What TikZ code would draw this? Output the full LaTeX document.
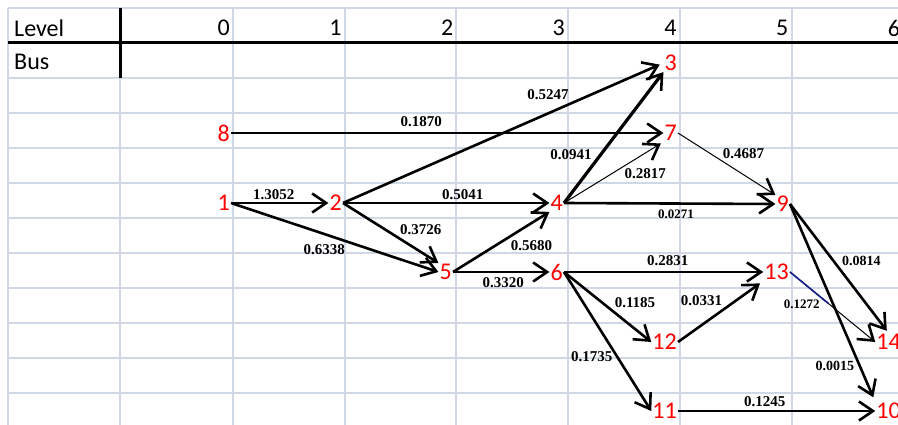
\documentclass[tikz,border=0pt]{standalone}
\usepackage{fontspec}
\setmainfont{Liberation Serif}
\newfontfamily\calibri{Carlito}
\usepackage{tikz}
\usetikzlibrary{arrows.meta,calc}
\definecolor{gridc}{RGB}{208,215,229}
\definecolor{navyline}{RGB}{20,30,140}
\tikzstyle{sheetline}=[
	draw=gridc,
	line width=2.2]
\tikzstyle{bus}=[
	text=red,
	font=\calibri\fontsize{24}{24}\selectfont,
	inner sep=1,
	anchor=east]
\tikzstyle{hdr}=[
	font=\calibri\fontsize{24}{24}\selectfont,
	inner sep=0]
\tikzstyle{lbl}=[
	font=\bfseries\fontsize{15}{15}\selectfont,
	inner sep=1.5]
\tikzstyle{lbls}=[
	lbl,
	font=\bfseries\fontsize{13}{13}\selectfont]
\tikzstyle{heavy}=[
	draw=black,
	line width=2.6,
	-{Straight Barb[length=14pt,width=19pt,line width=2.6pt]}]
\tikzstyle{fine}=[
	heavy,
	line width=1]

\begin{document}
\begin{tikzpicture}[x=1pt,y=-1pt]
	\useasboundingbox (0,0) rectangle (898,425);
	\fill[white] (0,0) rectangle (898,425);
	% sheet
	\foreach \x in {8,120,233,345,456,568,680,792}
		\draw[sheetline] (\x,8) -- (\x,425);
	\foreach \y in {8,43,...,393}
		\draw[sheetline] (8,\y) -- (898,\y);
	\draw[line width=3] (8,43) -- (898,43);
	\draw[line width=3] (120,8) -- (120,78);
	\node[hdr,anchor=west] (lvl) at (14,28) {Level};
	\node[hdr,anchor=west] (busrow) at (14,62) {Bus};
	\foreach \l in {0,...,6}
		\node[hdr,anchor=east] (l\l) at ({230+111.7*\l},28) {\l};
	% buses
	\node[bus] (b8) at (231,133) {8};
	\node[bus] (b1) at (231,203) {1};
	\node[bus] (b2) at (343,203) {2};
	\node[bus] (b3) at (678,63) {3};
	\node[bus] (b7) at (678,133) {7};
	\node[bus] (b4) at (564,203) {4};
	\node[bus] (b9) at (790,204) {9};
	\node[bus] (b5) at (453,272) {5};
	\node[bus] (b6) at (564,272) {6};
	\node[bus] (b13) at (790,272) {13};
	\node[bus] (b12) at (678,342) {12};
	\node[bus] (b11) at (678,411) {11};
	\node[bus] (b14) at (902,342) {14};
	\node[bus] (b10) at (902,411) {10};
	% lines
	\draw[heavy] (b1.east) -- (b2.west) node[lbl,pos=.44,above]{1.3052};
	\draw[heavy] (b1.east) -- (b5.west) node[lbl,pos=.45,below=8pt]{0.6338};
	\draw[heavy,shorten >=4pt] (b2.east) -- (b3.west) node[lbl,pos=.64,above=11pt]{0.5247};
	\draw[heavy,line width=1.5] (b8.east) -- (b7.west) node[lbl,pos=.44,above=4pt]{0.1870};
	\draw[heavy] (b2.east) -- (b4.west) node[lbl,pos=.58,above]{0.5041};
	\draw[heavy] (b2.east) -- (b5.north west) node[lbl,pos=.57,above right]{0.3726};
	\draw[heavy] (b5.east) -- (b4.south west) node[lbl,pos=.57,below right]{0.5680};
	\draw[heavy] (b5.east) -- (b6.west) node[lbl,pos=.52,below=3pt]{0.3320};
	\draw[heavy,line width=3.2] (b4.east) -- (b3.south west) node[lbl,pos=.37,left=6pt]{0.0941};
	\draw[fine,shorten >=3pt] (b4.east) -- (b7.south west) node[lbl,pos=.59,below right]{0.2817};
	\draw[heavy] (b4.east) -- (b9.west) node[lbls,pos=.53,below=4pt]{0.0271};
	\draw[fine] (b7.east) -- (b9.north west) node[lbl,pos=.44,above right]{0.4687};
	\draw[heavy] (b6.east) -- (b13.west) node[lbl,pos=.52,above=3pt]{0.2831};
	\draw[heavy] (b6.east) -- (b12.west) node[lbl,pos=.55,above right]{0.1185};
	\draw[heavy,shorten >=4pt] (b12.east) -- (b13.south west) node[lbl,pos=.55,above left]{0.0331};
	\draw[heavy] (b6.east) -- (b11.west) node[lbl,pos=.61,left=2pt]{0.1735};
	\draw[heavy] (b11.east) -- (b10.west) node[lbl,pos=.44,above=1pt]{0.1245};
	\draw[heavy,shorten >=3pt] (b9.east) -- (b14.north) node[lbl,pos=.44,right=6pt,font=\bfseries\fontsize{14}{14}\selectfont]{0.0814};
	\draw[fine] (b13.east) -- (b14.west) node[lbls,pos=.37,below left]{0.1272};
	\draw[navyline,line width=1.6] (b13.east) -- ($(b13.east)!.45!(b14.west)$);
	\draw[heavy,shorten >=5pt] (b9.east) -- (b10.north west) node[lbl,pos=.82,left=3pt,font=\bfseries\fontsize{14}{14}\selectfont]{0.0015};
\end{tikzpicture}
\end{document}
